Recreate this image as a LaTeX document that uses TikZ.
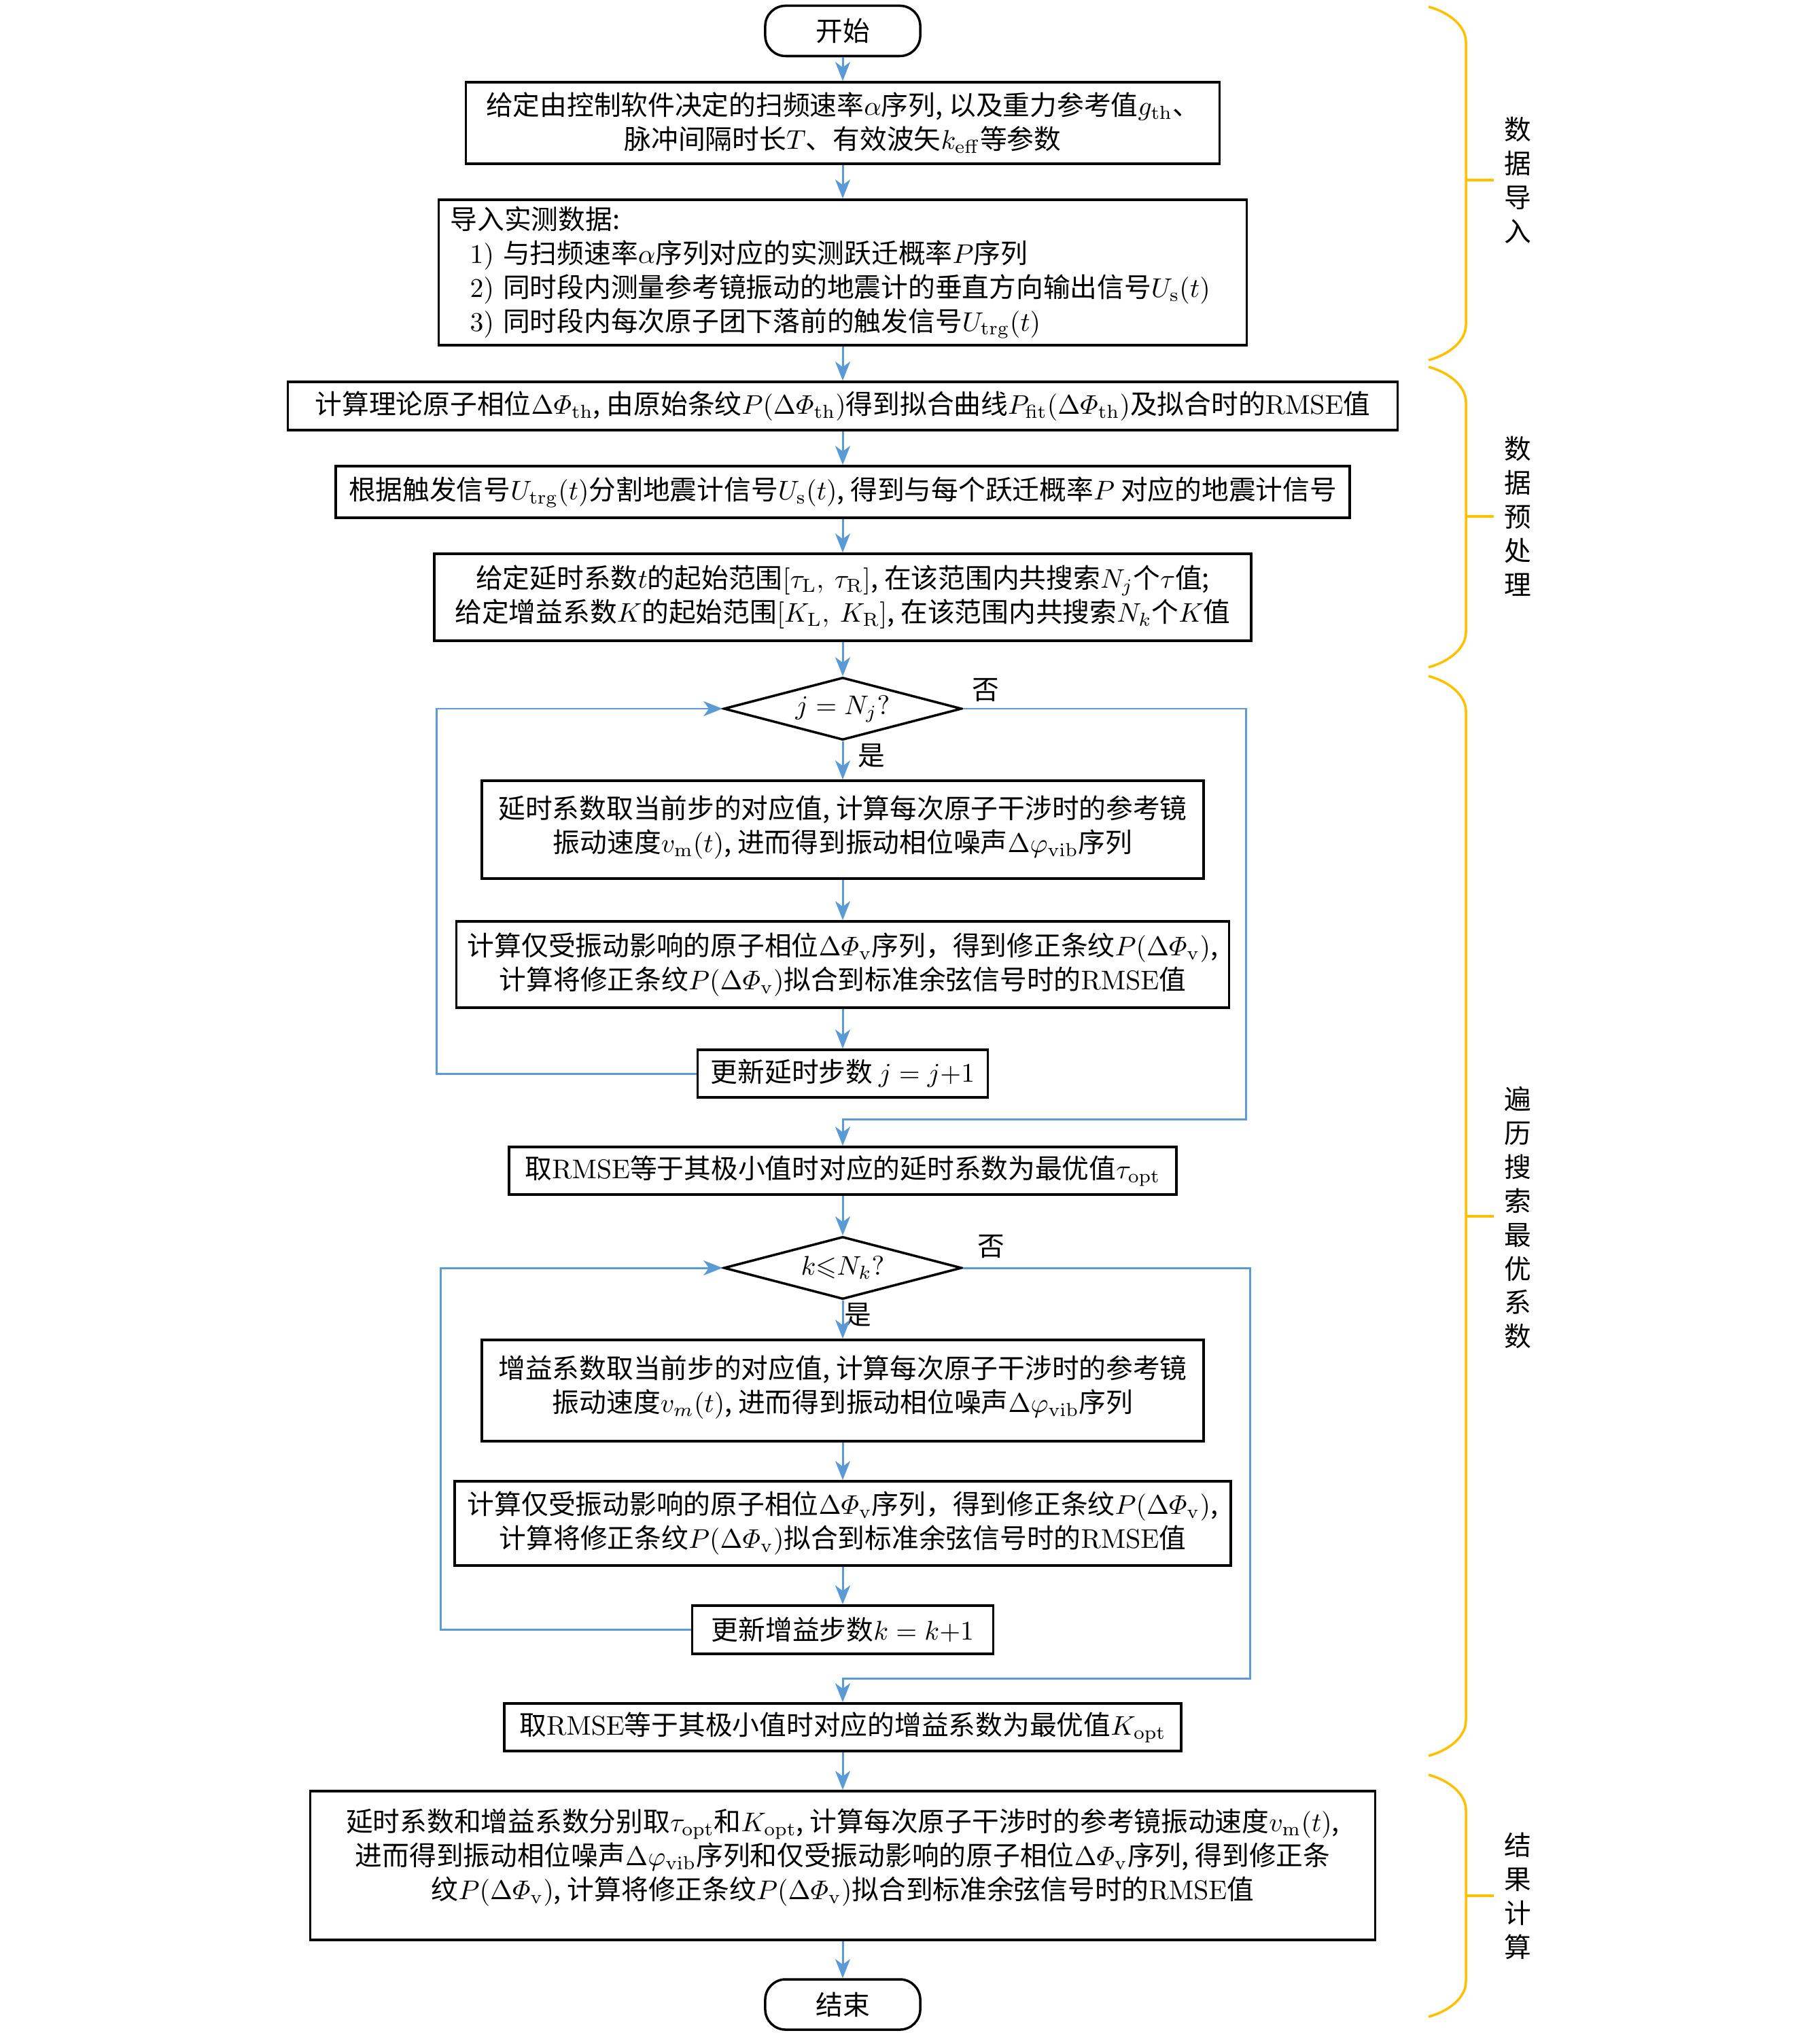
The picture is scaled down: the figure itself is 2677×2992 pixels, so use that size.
\RequirePackage{fix-cm}
\documentclass[tikz,border=0pt]{standalone}
\usepackage{amsmath,amssymb}
\usepackage[no-math]{fontspec}
\setmainfont{Noto Sans CJK SC}
\usetikzlibrary{arrows.meta,shapes.geometric}
\definecolor{flowblue}{RGB}{91,155,213}
\definecolor{braceyellow}{RGB}{255,192,0}
\newcommand\mybrace[3]{%
  \draw[bracestyle] (2102,#1) .. controls (2132,#1+8) and (2157,#1+28) .. (2157,#1+52)
    -- (2157,#2-52) .. controls (2157,#2-28) and (2132,#2-8) .. (2102,#2);
  \draw[bracestyle] (2157,#3) -- (2198,#3);}
\begin{document}
\begin{tikzpicture}[x=0.01cm,y=-0.01cm,
  font=\fontsize{11.3pt}{14.2pt}\selectfont,
  box/.style={draw, line width=1pt, align=center, inner sep=0.05cm},
  term/.style={draw, line width=1pt, rounded corners=0.3cm, minimum width=2.28cm, minimum height=0.74cm},
  dec/.style={draw, diamond, aspect=3.8, line width=1pt, inner sep=0pt, minimum width=3.5cm, minimum height=0.92cm},
  arr/.style={color=flowblue, line width=0.85pt, -{Stealth[length=0.28cm,width=0.22cm,inset=0.08cm]}},
  bracestyle/.style={draw=braceyellow, line width=1pt},
  side/.style={align=center, inner sep=0pt},
  lab/.style={inner sep=0pt}]
\useasboundingbox (0,0) rectangle (2677,2992);

% flow nodes
\node[term] (start) at (1240,45.5) {开始};
\node[box, minimum width=11.08cm, minimum height=1.2cm] (b1) at (1240,181) {给定由控制软件决定的扫频速率$\alpha$序列, 以及重力参考值$g_{\mathrm{th}}$、\\脉冲间隔时长$T$、有效波矢$k_{\mathrm{eff}}$等参数};
\node[box, align=left, text width=11.54cm, inner xsep=0.17cm, minimum height=2.14cm] (b2) at (1240,401) {导入实测数据:\\\hspace*{0.29cm}$1)$ 与扫频速率$\alpha$序列对应的实测跃迁概率$P$序列\\\hspace*{0.29cm}$2)$ 同时段内测量参考镜振动的地震计的垂直方向输出信号$U_{\mathrm{s}}(t)$\\\hspace*{0.29cm}$3)$ 同时段内每次原子团下落前的触发信号$U_{\mathrm{trg}}(t)$};
\node[box, minimum width=16.32cm, minimum height=0.71cm] (b3) at (1240,597.5) {计算理论原子相位$\Delta\varPhi_{\mathrm{th}}$, 由原始条纹$P(\Delta\varPhi_{\mathrm{th}})$得到拟合曲线$P_{\mathrm{fit}}(\Delta\varPhi_{\mathrm{th}})$及拟合时的$\mathrm{RMSE}$值};
\node[box, minimum width=14.91cm, minimum height=0.76cm] (b4) at (1240,724) {根据触发信号$U_{\mathrm{trg}}(t)$分割地震计信号$U_{\mathrm{s}}(t)$, 得到与每个跃迁概率$P$ 对应的地震计信号};
\node[box, minimum width=12.01cm, minimum height=1.28cm] (b5) at (1240,879) {给定延时系数$t$的起始范围$[\tau_{\mathrm{L}},\ \tau_{\mathrm{R}}]$, 在该范围内共搜索$N_j$个$\tau$值;\\给定增益系数$K$的起始范围$[K_{\mathrm{L}},\ K_{\mathrm{R}}]$, 在该范围内共搜索$N_k$个$K$值};
\node[dec] (d1) at (1240,1043) {$j=N_j?$};
\node[box, minimum width=10.61cm, minimum height=1.44cm] (b6) at (1240,1221) {延时系数取当前步的对应值, 计算每次原子干涉时的参考镜\\振动速度$v_{\mathrm{m}}(t)$, 进而得到振动相位噪声$\Delta\varphi_{\mathrm{vib}}$序列\rule[-0.16cm]{0pt}{0pt}};
\node[box, minimum width=11.36cm, minimum height=1.27cm] (b7) at (1240,1419.5) {计算仅受振动影响的原子相位$\Delta\varPhi_{\mathrm{v}}$序列，得到修正条纹$P(\Delta\varPhi_{\mathrm{v}})$,\\计算将修正条纹$P(\Delta\varPhi_{\mathrm{v}})$拟合到标准余弦信号时的$\mathrm{RMSE}$值};
\node[box, minimum width=4.27cm, minimum height=0.70cm] (b8) at (1240,1580) {更新延时步数 $j=j{+}1$};
\node[box, minimum width=9.81cm, minimum height=0.70cm] (b9) at (1240,1723) {取$\mathrm{RMSE}$等于其极小值时对应的延时系数为最优值$\tau_{\mathrm{opt}}$};
\node[dec] (d2) at (1240,1866) {$k{\leqslant}N_k?$};
\node[box, minimum width=10.61cm, minimum height=1.49cm] (b10) at (1240,2046.5) {增益系数取当前步的对应值, 计算每次原子干涉时的参考镜\\振动速度$v_m(t)$, 进而得到振动相位噪声$\Delta\varphi_{\mathrm{vib}}$序列\rule[-0.2cm]{0pt}{0pt}};
\node[box, minimum width=11.41cm, minimum height=1.24cm] (b11) at (1240,2242) {计算仅受振动影响的原子相位$\Delta\varPhi_{\mathrm{v}}$序列，得到修正条纹$P(\Delta\varPhi_{\mathrm{v}})$,\\计算将修正条纹$P(\Delta\varPhi_{\mathrm{v}})$拟合到标准余弦信号时的$\mathrm{RMSE}$值};
\node[box, minimum width=4.43cm, minimum height=0.71cm] (b12) at (1240,2398.5) {更新增益步数$k=k{+}1$};
\node[box, minimum width=9.95cm, minimum height=0.70cm] (b13) at (1240,2542) {取$\mathrm{RMSE}$等于其极小值时对应的增益系数为最优值$K_{\mathrm{opt}}$};
\node[box, minimum width=15.66cm, minimum height=2.19cm] (b14) at (1240,2745.5) {延时系数和增益系数分别取$\tau_{\mathrm{opt}}$和$K_{\mathrm{opt}}$, 计算每次原子干涉时的参考镜振动速度$v_{\mathrm{m}}(t)$,\\进而得到振动相位噪声$\Delta\varphi_{\mathrm{vib}}$序列和仅受振动影响的原子相位$\Delta\varPhi_{\mathrm{v}}$序列, 得到修正条\\纹$P(\Delta\varPhi_{\mathrm{v}})$, 计算将修正条纹$P(\Delta\varPhi_{\mathrm{v}})$拟合到标准余弦信号时的$\mathrm{RMSE}$值\rule[-0.34cm]{0pt}{0pt}};
\node[term] (end) at (1240,2950) {结束};

% branch labels
\node[lab] (no1) at (1450,1016) {否};
\node[lab] (yes1) at (1282,1112) {是};
\node[lab] (no2) at (1458,1835) {否};
\node[lab] (yes2) at (1262,1935) {是};

% loop corner coordinates
\coordinate (l1) at (642,1043);
\coordinate (r1a) at (1833,1043);
\coordinate (r1b) at (1833,1647);
\coordinate (l2) at (648,1866);
\coordinate (r2a) at (1839,1866);
\coordinate (r2b) at (1839,2470);

% connectors
\draw[arr] (start) -- (b1);
\draw[arr] (b1) -- (b2);
\draw[arr] (b2) -- (b3);
\draw[arr] (b3) -- (b4);
\draw[arr] (b4) -- (b5);
\draw[arr] (b5) -- (d1);
\draw[arr] (d1) -- (b6);
\draw[arr] (b6) -- (b7);
\draw[arr] (b7) -- (b8);
\draw[arr] (b8.west) -| (l1) -- (d1.west);
\draw[arr] (d1.east) -- (r1a) -- (r1b) -| (b9.north);
\draw[arr] (b9) -- (d2);
\draw[arr] (d2) -- (b10);
\draw[arr] (b10) -- (b11);
\draw[arr] (b11) -- (b12);
\draw[arr] (b12.west) -| (l2) -- (d2.west);
\draw[arr] (d2.east) -- (r2a) -- (r2b) -| (b13.north);
\draw[arr] (b13) -- (b14);
\draw[arr] (b14) -- (end);

% side braces and labels
\mybrace{10}{530}{265}
\mybrace{540}{982}{760}
\mybrace{995}{2584}{1790}
\mybrace{2612}{2968}{2790}
\node[side] (s1) at (2233,265) {数\\据\\导\\入};
\node[side] (s2) at (2233,760) {数\\据\\预\\处\\理};
\node[side] (s3) at (2233,1792) {遍\\历\\搜\\索\\最\\优\\系\\数};
\node[side] (s4) at (2233,2790) {结\\果\\计\\算};
\end{tikzpicture}
\end{document}
